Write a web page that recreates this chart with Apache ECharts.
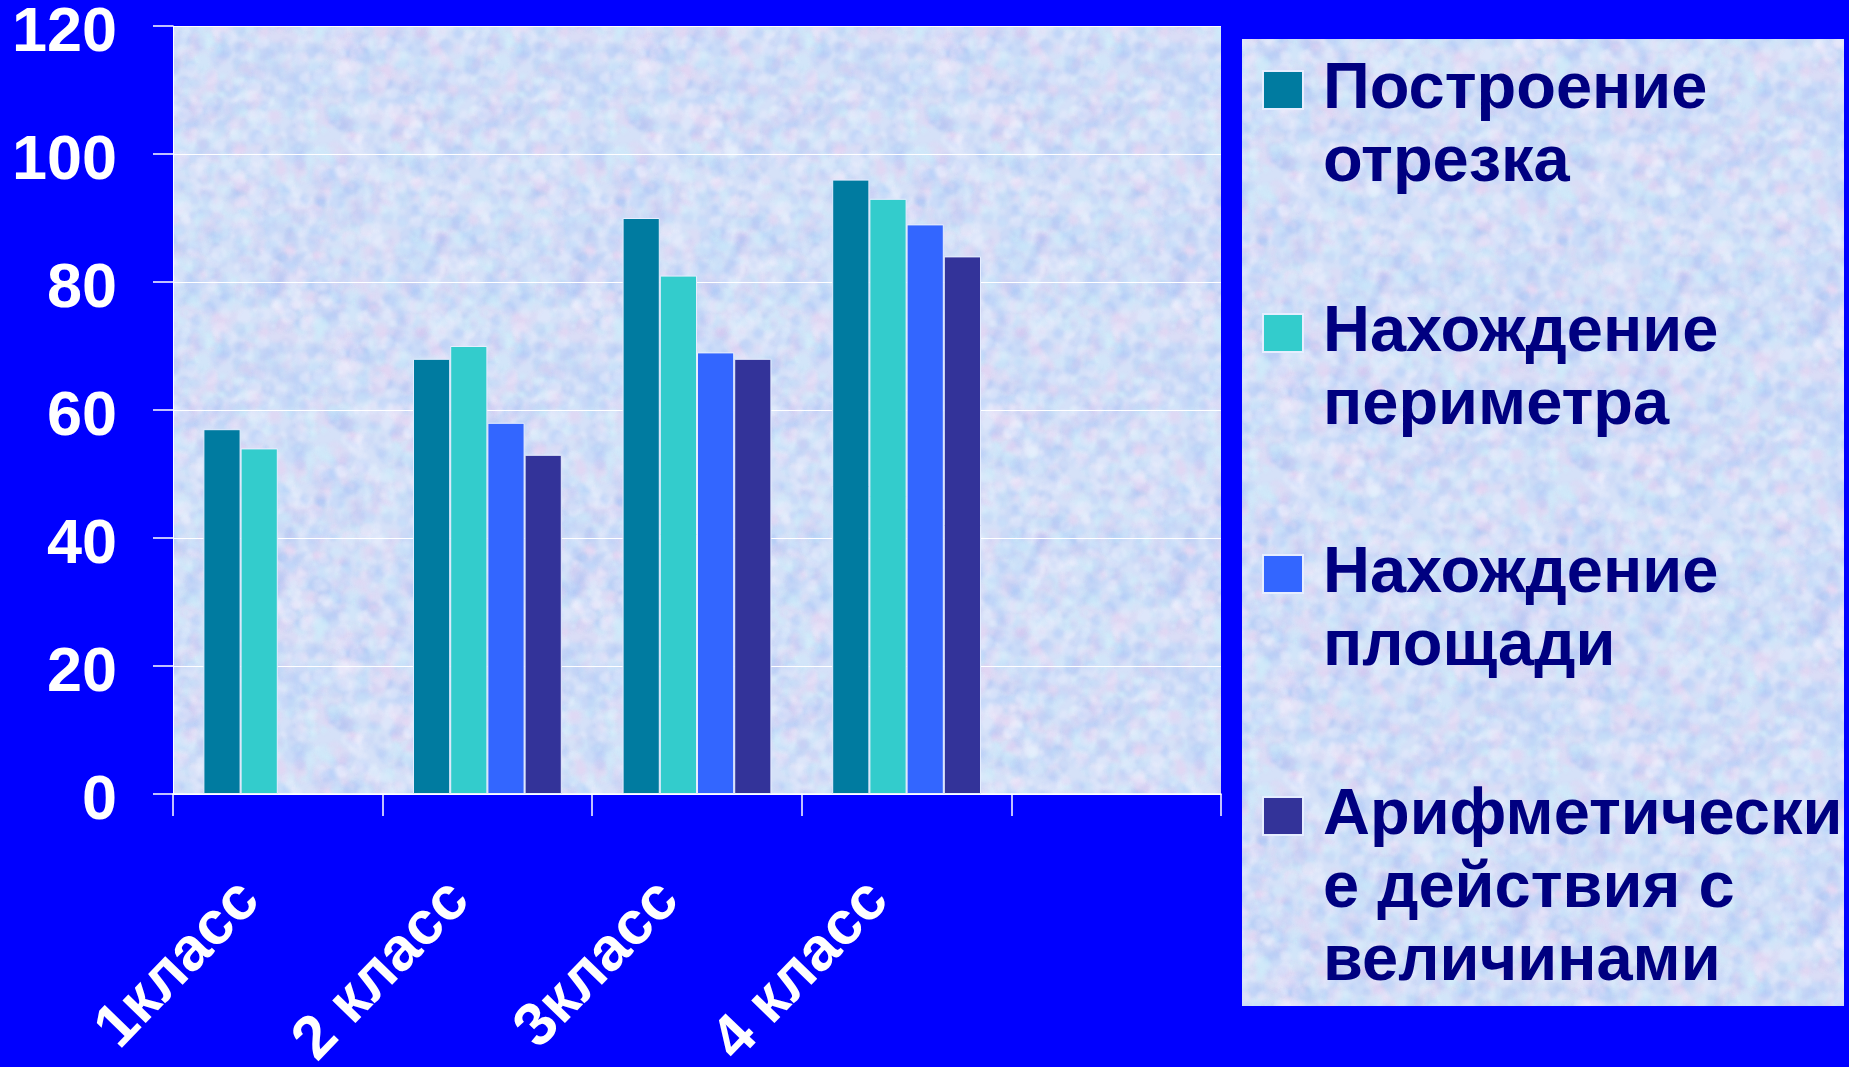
<!DOCTYPE html>
<html>
<head>
<meta charset="utf-8">
<script src="https://cdn.jsdelivr.net/npm/echarts@6/dist/echarts.min.js"></script>
<style>
  html, body { margin: 0; padding: 0; background: #0000ff; }
  #chart { width: 1849px; height: 1067px; }
</style>
</head>
<body>
<div id="chart"></div>
<script>
// данные диаграммы
var categories = ['1класс', '2 класс', '3класс', '4 класс', ''];
var seriesNames = [
    'Построение\nотрезка',
    'Нахождение\nпериметра',
    'Нахождение\nплощади',
    'Арифметически\nе действия с\nвеличинами'
];
var otrezok = [57, 68, 90, 96, null];
var perimetr = [54, 70, 81, 93, null];
var ploshad = [null, 58, 69, 89, null];
var arifm = [null, 53, 68, 84, null];
var yTicks = [0, 20, 40, 60, 80, 100, 120];

var colors = ['#007ba0', '#33cccc', '#3366ff', '#333399'];
var font = '"Liberation Sans", Arial, sans-serif';

// пёстрая светлая подложка (как фон в PowerPoint), бесшовная плитка
function makeTexture() {
    var N = 300;
    var c = document.createElement('canvas');
    c.width = N; c.height = N;
    var ctx = c.getContext('2d');
    ctx.fillStyle = '#d5e1f8';
    ctx.fillRect(0, 0, N, N);
    var s = 12345;
    function rnd() { s = (s * 16807) % 2147483647; return s / 2147483647; }
    var tints = ['rgba(160,195,250,0.2)', 'rgba(240,205,240,0.2)',
                 'rgba(205,240,252,0.28)', 'rgba(150,180,240,0.14)', 'rgba(245,245,255,0.28)'];
    ctx.filter = 'blur(1.5px)';
    for (var i = 0; i < 2000; i++) {
        var col = tints[Math.floor(rnd() * tints.length)];
        var x = rnd() * N, y = rnd() * N, r = 2.5 + rnd() * 6;
        ctx.fillStyle = col;
        for (var dx = -N; dx <= N; dx += N) {
            for (var dy = -N; dy <= N; dy += N) {
                if (x + dx + r + 4 < 0 || x + dx - r - 4 > N || y + dy + r + 4 < 0 || y + dy - r - 4 > N) continue;
                ctx.beginPath();
                ctx.arc(x + dx, y + dy, r, 0, Math.PI * 2);
                ctx.fill();
            }
        }
    }
    return c;
}
var texture = { image: makeTexture(), repeat: 'repeat' };

var chart = echarts.init(document.getElementById('chart'));

// каждая запись легенды — отдельно, значок напротив первой строки
var LH = 73;
function legendItem(i, centerY) {
    var lines = seriesNames[i].split('\n').length;
    return {
        data: [seriesNames[i]],
        orient: 'vertical',
        left: 1262,
        top: centerY - (2 * lines - 1) * LH / 2,
        padding: 0,
        itemWidth: 40,
        itemHeight: 38,
        icon: 'rect',
        selectedMode: false,
        formatter: function (name) {
            return new Array(lines).join('\n') + name;
        },
        textStyle: {
            color: '#000080',
            fontSize: 65,
            fontWeight: 'bold',
            fontFamily: font,
            lineHeight: LH,
            padding: [0, 0, 0, 15]
        }
    };
}

var barStyle = function (i) {
    return {
        color: colors[i],
        borderColor: '#e6eeff',
        borderWidth: 1
    };
};

var option = {
    backgroundColor: '#0000ff',
    animation: false,
    textStyle: { fontFamily: font },
    graphic: [{
        type: 'rect',
        left: 1242,
        top: 39,
        shape: { width: 602, height: 967 },
        style: { fill: texture },
        z: 0
    }],
    legend: [
        legendItem(0, 90),
        legendItem(1, 333),
        legendItem(2, 574),
        legendItem(3, 816)
    ],
    grid: {
        left: 173,
        top: 26,
        right: 628,
        bottom: 273,
        outerBoundsMode: 'none',
        containLabel: false,
        show: true,
        borderWidth: 0,
        backgroundColor: texture
    },
    xAxis: {
        type: 'category',
        data: categories,
        axisLine: { lineStyle: { color: '#ffffff', width: 1.5 } },
        axisTick: { show: true, length: 22, lineStyle: { color: '#ffffff', width: 1.5 } },
        axisLabel: {
            rotate: 46,
            margin: 68,
            color: '#ffffff',
            fontSize: 61,
            fontWeight: 'bold',
            fontFamily: font,
            padding: [0, 40, 0, 0]
        }
    },
    yAxis: {
        type: 'value',
        min: yTicks[0],
        max: yTicks[yTicks.length - 1],
        interval: yTicks[1] - yTicks[0],
        axisLine: { show: true, lineStyle: { color: '#ffffff', width: 1 } },
        axisTick: { show: true, length: 20, lineStyle: { color: '#ffffff', width: 1.5 } },
        splitLine: { lineStyle: { color: '#ffffff', width: 1 } },
        axisLabel: {
            margin: 56,
            color: '#ffffff',
            fontSize: 63,
            fontWeight: 'bold',
            fontFamily: font,
            verticalAlign: 'top',
            lineHeight: 16
        }
    },
    series: [
        { name: seriesNames[0], type: 'bar', data: otrezok, itemStyle: barStyle(0), barGap: 0, barCategoryGap: '29%' },
        { name: seriesNames[1], type: 'bar', data: perimetr, itemStyle: barStyle(1) },
        { name: seriesNames[2], type: 'bar', data: ploshad, itemStyle: barStyle(2) },
        { name: seriesNames[3], type: 'bar', data: arifm, itemStyle: barStyle(3) }
    ]
};

chart.setOption(option);
</script>
</body>
</html>
